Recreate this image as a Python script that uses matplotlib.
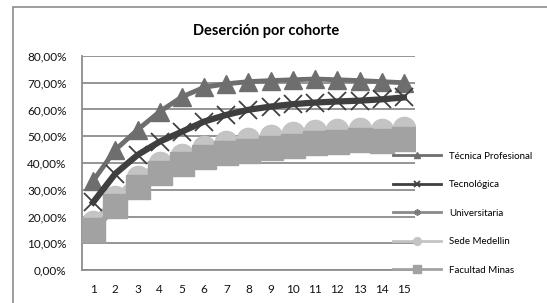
import matplotlib
matplotlib.use("Agg")
import matplotlib.pyplot as plt
from matplotlib.patches import Rectangle
from matplotlib.ticker import FuncFormatter

plt.rcParams['font.family'] = ['Lato', 'DejaVu Sans']

# cohortes (semestres)
semestres = list(range(1, 16))

tecnica_prof = [33.3, 44.9, 52.4, 59.2, 64.7, 68.3, 69.6, 70.4, 70.8, 71.1, 71.4, 71.1, 70.8, 70.4, 70.0]
tecnologica = [25.3, 36.0, 43.0, 48.0, 51.7, 55.5, 58.0, 59.9, 61.1, 62.0, 62.6, 63.0, 63.3, 63.8, 64.5]
universitaria = [14.5, 23.0, 30.0, 35.0, 38.5, 41.0, 43.0, 44.0, 45.0, 46.0, 46.5, 47.0, 47.5, 47.5, 48.0]
sede_medellin = [18.0, 27.4, 34.9, 39.9, 43.0, 45.9, 48.0, 48.9, 50.1, 51.1, 51.9, 52.2, 52.7, 52.4, 53.0]
facultad_minas = [15.0, 23.9, 31.2, 36.2, 39.5, 42.1, 43.9, 44.6, 45.5, 46.4, 47.4, 47.9, 48.6, 48.4, 49.1]

nombres = ['Técnica Profesional', 'Tecnológica', 'Universitaria', 'Sede Medellin', 'Facultad Minas']

fig = plt.figure(figsize=(5.47, 3.03), dpi=100)
fig.patch.set_facecolor('white')

# marco del grafico
fig.patches.append(Rectangle((13 / 547, -0.1), 1.2, 1.1 - 7 / 303, transform=fig.transFigure,
                             fill=False, edgecolor='#8c8c8c', linewidth=1.2))

ax = fig.add_axes([82 / 547, 33 / 303, 333 / 547, 214 / 303])

l1, = ax.plot(semestres, tecnica_prof, color='#6e6e6e', lw=3.5, marker='^', ms=13,
              mfc='#6e6e6e', mec='#6e6e6e', zorder=5)
l2, = ax.plot(semestres, tecnologica, color='#3f3f3f', lw=4.5, marker='x', ms=13,
              mec='#3f3f3f', mew=1.3, zorder=6)
l3, = ax.plot(semestres, universitaria, color='#8a8a8a', lw=3, marker=(6, 2, 0), ms=13,
              mec='#7a7a7a', mew=1.2, zorder=2)
l4, = ax.plot(semestres, sede_medellin, color='#c4c4c4', lw=3, marker='o', ms=16,
              mfc='#c4c4c4', mec='#c4c4c4', zorder=3)
l5, = ax.plot(semestres, facultad_minas, color='#a2a2a2', lw=3, marker='s', ms=17,
              mfc='#a2a2a2', mec='#a2a2a2', zorder=4)

ax.set_xlim(0.5, 15.5)
ax.set_ylim(0, 80)
ax.set_yticks(range(0, 81, 10))
ax.set_xticks(semestres)
ax.yaxis.set_major_formatter(FuncFormatter(lambda v, p: '{:.2f}%'.format(v).replace('.', ',')))
ax.grid(axis='y', color='#8c8c8c', lw=1.3, zorder=0)
ax.set_axisbelow(True)
for s in ['top', 'right']:
    ax.spines[s].set_visible(False)
for s in ['left', 'bottom']:
    ax.spines[s].set_color('#8c8c8c')
    ax.spines[s].set_linewidth(1.3)
ax.tick_params(length=0, labelsize=8.5, colors='#111111')
ax.tick_params(axis='x', pad=10)
ax.tick_params(axis='y', pad=11)

fig.text(266 / 547, 1 - 31 / 303, 'Deserción por cohorte', ha='center', va='center',
         fontsize=10.5, fontweight='bold')

leg = fig.legend([l1, l2, l3, l4, l5], nombres, loc='upper left',
                 bbox_to_anchor=(384 / 547, 1 - 143 / 303), frameon=False,
                 fontsize=7, markerscale=0.35, handlelength=5.0, labelspacing=2.0,
                 handletextpad=0.8)
for h in leg.legend_handles:
    h.set_linewidth(2)

fig.savefig('out.png', dpi=100)
